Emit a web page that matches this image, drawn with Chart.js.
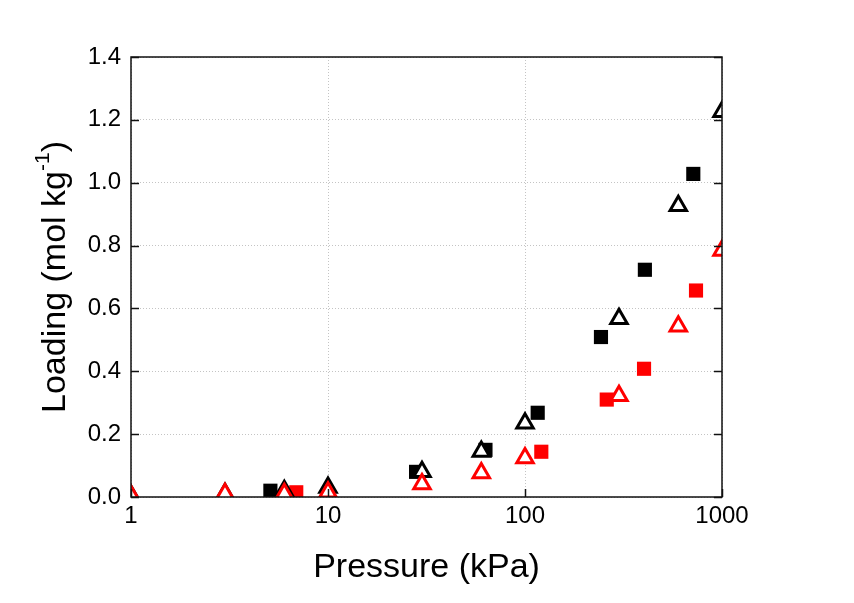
<!DOCTYPE html>
<html>
<head>
<meta charset="utf-8">
<script src="https://cdn.jsdelivr.net/npm/chart.js@4/dist/chart.umd.min.js"></script>
<style>
  html, body { margin: 0; padding: 0; background: #fff; }
  #wrap { width: 854px; height: 603px; }
</style>
</head>
<body>
<div id="wrap"><canvas id="chart"></canvas></div>
<script>
// pressao (kPa) e carga (mol/kg) de cada serie
const quadPretoX = [5.1, 28, 63, 116, 243, 406, 715];
const quadPretoY = [0.02, 0.08, 0.15, 0.268, 0.509, 0.723, 1.028];

const quadVermX = [6.9, 121, 260, 402, 738];
const quadVermY = [0.015, 0.144, 0.31, 0.408, 0.657];

const triPretoX = [1, 3, 6, 10, 30, 60, 100, 300, 600, 1000];
const triPretoY = [0.005, 0.01, 0.02, 0.03, 0.08, 0.145, 0.235, 0.567, 0.927, 1.226];

const triVermX = [1, 3, 6, 10, 30, 60, 100, 300, 600, 1000];
const triVermY = [0.005, 0.01, 0.01, 0.015, 0.041, 0.076, 0.124, 0.322, 0.543, 0.784];

const ticksX = [1, 10, 100, 1000];
const ticksY = [0, 0.2, 0.4, 0.6, 0.8, 1.0, 1.2, 1.4];

function pontos(xs, ys) {
  return xs.map((x, i) => ({ x: x, y: ys[i] }));
}

const fonte = '"Liberation Sans", Arial, sans-serif';

// moldura, ticks para dentro e titulos dos eixos
const moldura = {
  id: 'moldura',
  afterDraw(chart) {
    const ctx = chart.ctx;
    const a = chart.chartArea;
    const sx = chart.scales.x;
    const sy = chart.scales.y;
    ctx.save();
    ctx.strokeStyle = '#111';
    ctx.lineWidth = 1.5;
    ctx.beginPath();
    ticksY.forEach(v => {
      const py = Math.round(sy.getPixelForValue(v)) + 0.5;
      ctx.moveTo(a.left, py); ctx.lineTo(a.left + 8, py);
      ctx.moveTo(a.right, py); ctx.lineTo(a.right - 8, py);
    });
    ticksX.forEach(v => {
      const px = Math.round(sx.getPixelForValue(v)) + 0.5;
      ctx.moveTo(px, a.bottom); ctx.lineTo(px, a.bottom - 8);
    });
    ctx.stroke();
    ctx.strokeRect(a.left, a.top, a.right - a.left, a.bottom - a.top);

    ctx.fillStyle = '#000';
    // titulo x
    ctx.font = '34px ' + fonte;
    ctx.textAlign = 'center';
    ctx.textBaseline = 'alphabetic';
    ctx.fillText('Pressure (kPa)', (a.left + a.right) / 2, 577);

    // titulo y com expoente
    const p1 = 'Loading (mol kg';
    const p2 = '-1';
    const p3 = ')';
    ctx.font = '34px ' + fonte;
    const w1 = ctx.measureText(p1).width;
    const w3 = ctx.measureText(p3).width;
    ctx.font = '21px ' + fonte;
    const w2 = ctx.measureText(p2).width;
    const total = w1 + w2 + w3;
    ctx.translate(65, (a.top + a.bottom) / 2);
    ctx.rotate(-Math.PI / 2);
    ctx.textAlign = 'left';
    ctx.font = '34px ' + fonte;
    ctx.fillText(p1, -total / 2, 0);
    ctx.font = '21px ' + fonte;
    ctx.fillText(p2, -total / 2 + w1, -16);
    ctx.font = '34px ' + fonte;
    ctx.fillText(p3, -total / 2 + w1 + w2, 0);
    ctx.restore();
  }
};

const ctx = document.getElementById('chart').getContext('2d');
new Chart(ctx, {
  type: 'scatter',
  data: {
    datasets: [
      {
        label: 'triangulo vermelho',
        data: pontos(triVermX, triVermY),
        pointStyle: 'triangle',
        pointRadius: 9.5,
        pointBorderWidth: 3,
        borderColor: '#ff0000',
        backgroundColor: '#ffffff',
        clip: 0
      },
      {
        label: 'triangulo preto',
        data: pontos(triPretoX, triPretoY),
        pointStyle: 'triangle',
        pointRadius: 9.5,
        pointBorderWidth: 3,
        borderColor: '#000000',
        backgroundColor: '#ffffff',
        clip: 0
      },
      {
        label: 'quadrado vermelho',
        data: pontos(quadVermX, quadVermY),
        pointStyle: 'rect',
        pointRadius: 10,
        pointBorderWidth: 0,
        borderColor: '#ff0000',
        backgroundColor: '#ff0000',
        clip: 0
      },
      {
        label: 'quadrado preto',
        data: pontos(quadPretoX, quadPretoY),
        pointStyle: 'rect',
        pointRadius: 10,
        pointBorderWidth: 0,
        borderColor: '#000000',
        backgroundColor: '#000000',
        clip: 0
      }
    ]
  },
  options: {
    responsive: true,
    maintainAspectRatio: false,
    animation: false,
    layout: { padding: { left: 0, top: 57, right: 132, bottom: 0 } },
    plugins: {
      legend: { display: false },
      tooltip: { enabled: false }
    },
    elements: { point: { hoverRadius: 9.5 } },
    scales: {
      x: {
        type: 'logarithmic',
        min: 1,
        max: 1000,
        afterBuildTicks: scale => {
          scale.ticks = ticksX.map(v => ({ value: v }));
        },
        afterFit: scale => { scale.height = 106; },
        ticks: {
          color: '#000',
          font: { family: fonte, size: 24 },
          padding: 5,
          maxRotation: 0,
          autoSkip: false,
          callback: v => String(v)
        },
        grid: { color: '#c4c4c4', lineWidth: 1, drawTicks: false },
        border: { display: false, dash: [1, 2] }
      },
      y: {
        min: 0,
        max: 1.4,
        afterBuildTicks: scale => {
          scale.ticks = ticksY.map(v => ({ value: v }));
        },
        afterFit: scale => { scale.width = 131; },
        ticks: {
          color: '#000',
          font: { family: fonte, size: 24 },
          padding: 10,
          callback: v => v.toFixed(1)
        },
        grid: { color: '#c4c4c4', lineWidth: 1, drawTicks: false },
        border: { display: false, dash: [1, 2] }
      }
    }
  },
  plugins: [moldura]
});
</script>
</body>
</html>
